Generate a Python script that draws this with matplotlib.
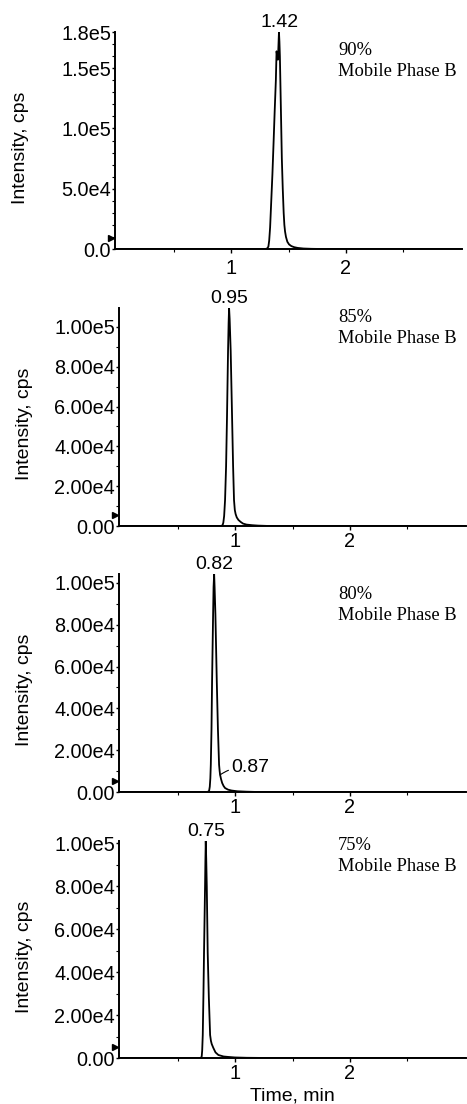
import matplotlib
matplotlib.use("Agg")
import matplotlib.pyplot as plt
from matplotlib.ticker import FixedLocator, MultipleLocator

# ---------------- data ----------------
t_90 = [0.0, 1.300, 1.315, 1.325, 1.332, 1.340, 1.350, 1.360, 1.370, 1.380, 1.390, 1.396,
        1.402, 1.408, 1.417, 1.421, 1.425, 1.430, 1.436, 1.442, 1.450, 1.458, 1.464,
        1.470, 1.478, 1.490, 1.505, 1.525, 1.550, 1.580, 1.630, 1.700, 1.800, 3.0]
i_90 = [0, 0, 500, 2000, 7000, 18000, 40000, 62000, 88000, 115000, 140000, 164000,
        160000, 157000, 180000, 172000, 160000, 135000, 105000, 75000, 50000, 30000, 20000,
        14500, 10000, 6000, 3800, 2400, 1500, 900, 400, 150, 0, 0]

t_85 = [0.0, 0.880, 0.892, 0.898, 0.905, 0.913, 0.922, 0.930, 0.939, 0.944, 0.948, 0.953,
        0.962, 0.974, 0.983, 0.991, 0.998, 1.005, 1.015, 1.030, 1.050, 1.070, 1.100, 1.150,
        1.200, 1.300, 3.0]
i_85 = [0, 0, 500, 1700, 5000, 13000, 30000, 55000, 88000, 102000, 109500, 104000,
        88000, 55000, 30000, 13000, 8000, 6000, 4300, 3000, 2000, 1200, 700, 400,
        200, 0, 0]

t_80 = [0.0, 0.760, 0.774, 0.780, 0.785, 0.789, 0.795, 0.800, 0.809, 0.813, 0.818, 0.822,
        0.829, 0.841, 0.851, 0.861, 0.866, 0.870, 0.878, 0.888, 0.900, 0.913, 0.940, 0.970,
        1.020, 1.100, 1.200, 3.0]
i_80 = [0, 0, 500, 2500, 6500, 13000, 30000, 53000, 85000, 98000, 104300, 98000,
        85000, 53000, 30000, 13000, 10000, 8200, 6200, 4300, 2900, 1900, 1100, 700,
        350, 150, 0, 0]

t_75 = [0.0, 0.703, 0.710, 0.714, 0.719, 0.725, 0.730, 0.739, 0.742, 0.745, 0.749, 0.754,
        0.762, 0.772, 0.783, 0.790, 0.797, 0.811, 0.830, 0.855, 0.900, 0.940, 1.000, 1.100,
        1.300, 3.0]
i_75 = [0, 0, 800, 3500, 10700, 30000, 49000, 80000, 92000, 101000, 93000, 80000,
        49000, 28000, 10700, 8000, 6500, 4700, 2600, 1400, 700, 500, 250, 100,
        0, 0]

times = [t_90, t_85, t_80, t_75]
intensities = [i_90, i_85, i_80, i_75]

conditions = ["90%", "85%", "80%", "75%"]
peak_rt = [1.42, 0.95, 0.82, 0.75]
peak_labels = ["1.42", "0.95", "0.82", "0.75"]

ytick_vals_90 = [0, 50000, 100000, 150000, 180000]
ytick_labels_90 = ["0.0", "5.0e4", "1.0e5", "1.5e5", "1.8e5"]
ytick_vals_std = [0, 20000, 40000, 60000, 80000, 100000]
ytick_labels_std = ["0.00", "2.00e4", "4.00e4", "6.00e4", "8.00e4", "1.00e5"]
ytick_vals = [ytick_vals_90, ytick_vals_std, ytick_vals_std, ytick_vals_std]
ytick_labels = [ytick_labels_90, ytick_labels_std, ytick_labels_std, ytick_labels_std]

xtick_vals = [1, 2]
xtick_labels = ["1", "2"]

# secondary peak label in the 80% panel
extra_rt = 0.87
extra_int = 8200
extra_label = "0.87"

# ---------------- layout ----------------
W, H = 467, 1104
fig = plt.figure(figsize=(W / 100, H / 100), dpi=100)

# (left, top, right, bottom) in pixels
boxes = [(115, 32, 462, 249), (119, 308, 466, 526), (119, 574, 466, 792), (119, 841, 466, 1058)]
# condition text position (axes fraction)
cond_pos = [(0.643, 0.955), (0.631, 0.995), (0.631, 0.945), (0.631, 1.02)]
xpads = [4.5, 1.5, 1.5, 1.5]

sans = ["Liberation Sans", "DejaVu Sans"]
serif = ["Liberation Serif", "DejaVu Serif"]

for k in range(4):
    l, t, r, b = boxes[k]
    ax = fig.add_axes([l / W, 1 - b / H, (r - l) / W, (b - t) / H])
    ax.plot(times[k], intensities[k], color="black", lw=1.3, solid_joinstyle="round")
    ax.set_xlim(-0.01, 3.01)
    ax.set_ylim(0, max(intensities[k]))

    for s in ["top", "right"]:
        ax.spines[s].set_visible(False)
    for s in ["left", "bottom"]:
        ax.spines[s].set_linewidth(1.4)

    ax.yaxis.set_major_locator(FixedLocator(ytick_vals[k]))
    ax.set_yticklabels(ytick_labels[k], family=sans, fontsize=14.3)
    ax.yaxis.set_minor_locator(MultipleLocator(10000))
    ax.xaxis.set_major_locator(FixedLocator(xtick_vals))
    ax.set_xticklabels(xtick_labels, family=sans, fontsize=14.3)
    ax.xaxis.set_minor_locator(FixedLocator([0.5, 1.5, 2.5]))
    ax.tick_params(axis="y", which="major", length=2, width=1, pad=0.8)
    ax.tick_params(axis="y", which="minor", length=2, width=0.8)
    ax.tick_params(axis="x", which="major", length=3, width=1, pad=xpads[k])
    ax.tick_params(axis="x", which="minor", length=2, width=0.8)

    ax.set_ylabel("Intensity, cps", family=sans, fontsize=14)
    ax.yaxis.set_label_coords(-0.248, 0.468)

    # peak apex label
    ax.annotate(peak_labels[k], xy=(peak_rt[k], max(intensities[k])),
                xytext=(0, 0.5), textcoords="offset points",
                ha="center", va="bottom", family=sans, fontsize=14,
                annotation_clip=False)

    # condition text
    ax.text(cond_pos[k][0], cond_pos[k][1], conditions[k] + "\nMobile Phase B",
            transform=ax.transAxes, ha="left", va="top", family=serif,
            fontsize=13.3, linespacing=1.3)

    # small start marker at the left of the y axis
    ax.plot([-0.012], [0.05], marker=">", color="black", ms=5,
            transform=ax.transAxes, clip_on=False)

    if k == 2:
        ax.annotate(extra_label, xy=(extra_rt, extra_int), xytext=(8, 5),
                    textcoords="offset points", ha="left", va="center",
                    family=sans, fontsize=14,
                    arrowprops=dict(arrowstyle="-", lw=0.8, color="black",
                                    shrinkA=0, shrinkB=0,
                                    connectionstyle="arc3,rad=0.2"))
    if k == 3:
        ax.set_xlabel("Time, min", family=sans, fontsize=14)
        ax.xaxis.set_label_coords(0.5, -0.138)

fig.savefig("out.png", dpi=100)
